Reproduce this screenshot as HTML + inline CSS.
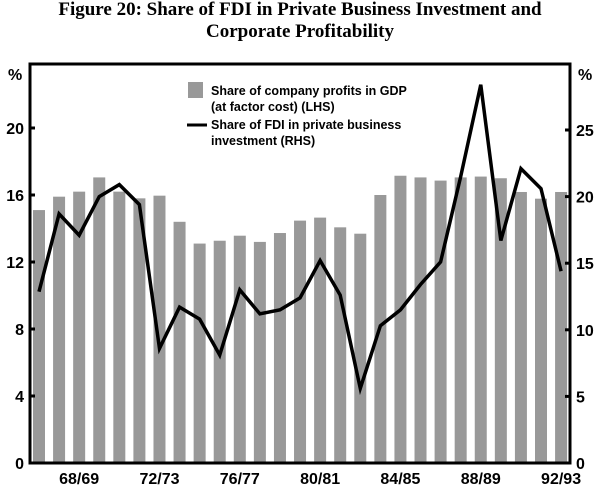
<!DOCTYPE html>
<html><head><meta charset="utf-8"><style>
body{margin:0;background:#fff;}
svg text{font-family:"Liberation Sans",Arial,sans-serif;}
</style></head><body>
<svg width="600" height="486" xmlns="http://www.w3.org/2000/svg">
<text x="300" y="15" text-anchor="middle" style="font-family:'Liberation Serif',serif;font-weight:bold;font-size:19px">Figure 20: Share of FDI in Private Business Investment and</text>
<text x="300" y="37" text-anchor="middle" style="font-family:'Liberation Serif',serif;font-weight:bold;font-size:19px">Corporate Profitability</text>
<g id="bars"></g>
<polyline id="fdiLine" fill="none" stroke="#000" stroke-width="3.5" stroke-linejoin="miter"/>
<rect x="30" y="64" width="540" height="399" fill="none" stroke="#000" stroke-width="3"/>
<g id="axes"></g>
<text x="8" y="80" font-size="16" font-weight="bold">%</text>
<text x="578" y="80" font-size="16" font-weight="bold">%</text>
<g>
<rect x="188" y="82" width="15" height="16" fill="#999"/>
<text x="211" y="95" font-size="12.5" font-weight="bold">Share of company profits in GDP</text>
<text x="211" y="111" font-size="12.5" font-weight="bold">(at factor cost) (LHS)</text>
<line x1="187" y1="125" x2="207" y2="125" stroke="#000" stroke-width="3"/>
<text x="211" y="129" font-size="12.5" font-weight="bold">Share of FDI in private business</text>
<text x="211" y="145" font-size="12.5" font-weight="bold">investment (RHS)</text>
</g>
</svg>
<script>
const categories=["66/67","67/68","68/69","69/70","70/71","71/72","72/73","73/74","74/75","75/76","76/77","77/78","78/79","79/80","80/81","81/82","82/83","83/84","84/85","85/86","86/87","87/88","88/89","89/90","90/91","91/92","92/93"];
const profitShare=[15.1,15.9,16.2,17.05,16.2,15.8,15.96,14.4,13.1,13.27,13.57,13.2,13.73,14.47,14.65,14.07,13.69,16.0,17.15,17.05,16.86,17.05,17.1,17.0,16.18,15.78,16.18];
const fdiShare=[12.86,18.7,17.1,20.0,20.9,19.4,8.6,11.7,10.8,8.1,13.0,11.2,11.5,12.4,15.2,12.6,5.6,10.3,11.5,13.4,15.1,21.5,28.4,16.7,22.1,20.6,14.4];
const leftTicks=[0,4,8,12,16,20];
const rightTicks=[0,5,10,15,20,25];
const xLabels=["68/69","72/73","76/77","80/81","84/85","88/89","92/93"];
const NS="http://www.w3.org/2000/svg";
const x=i=>39+i*20.08;
const yL=v=>463-v*16.75;
const yR=v=>463-v*13.32;
const bars=document.getElementById('bars');
profitShare.forEach((v,i)=>{
 const r=document.createElementNS(NS,'rect');
 r.setAttribute('x',x(i)-6);r.setAttribute('width',12);
 r.setAttribute('y',yL(v));r.setAttribute('height',463-yL(v));
 r.setAttribute('fill','#999');
 
 
 bars.appendChild(r);
});
document.getElementById('fdiLine').setAttribute('points',fdiShare.map((v,i)=>x(i)+','+yR(v)).join(' '));
const ax=document.getElementById('axes');
function txt(xp,yp,s,anchor,name){
 const t=document.createElementNS(NS,'text');
 t.setAttribute('x',xp);t.setAttribute('y',yp);t.setAttribute('font-size','16');
 t.setAttribute('font-weight','bold');
 t.setAttribute('text-anchor',anchor);t.textContent=s;
 
 
 ax.appendChild(t);
}
function tick(x1,y1,x2,y2){
 const l=document.createElementNS(NS,'line');
 l.setAttribute('x1',x1);l.setAttribute('y1',y1);l.setAttribute('x2',x2);l.setAttribute('y2',y2);
 l.setAttribute('stroke','#000');l.setAttribute('stroke-width','3');
 
 
 ax.appendChild(l);
}
leftTicks.forEach(v=>{tick(30,yL(v),35,yL(v));txt(24,yL(v)+6,String(v),'end','left-tick-label');});
rightTicks.forEach(v=>{tick(565,yR(v),570,yR(v));txt(576,yR(v)+6,String(v),'start','right-tick-label');});
xLabels.forEach(s=>{const i=categories.indexOf(s);txt(x(i),484,s,'middle','x-tick-label');});
</script>
</body></html>
